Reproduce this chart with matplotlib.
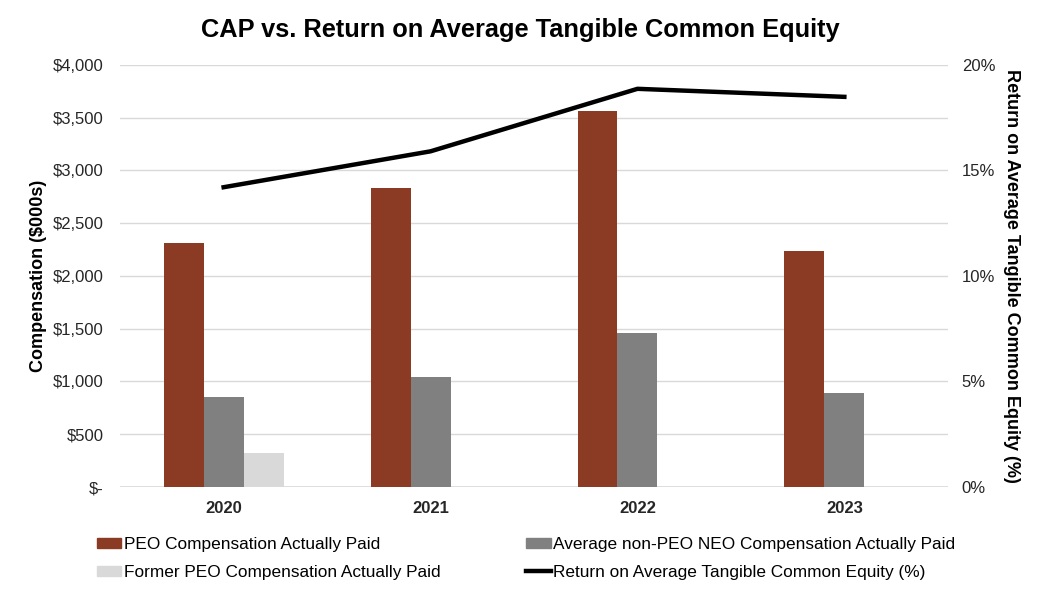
import matplotlib
matplotlib.use("Agg")
import matplotlib.pyplot as plt
import numpy as np
from matplotlib.ticker import FuncFormatter
from matplotlib.lines import Line2D
from matplotlib.patches import Patch

plt.rcParams['font.family'] = ['Liberation Sans', 'DejaVu Sans']

years = ["2020", "2021", "2022", "2023"]
peo_cap = [2313, 2834, 3564, 2237]
non_peo_cap = [853, 1043, 1460, 891]
former_peo_cap = [322, 0, 0, 0]
rotce = [14.2, 15.9, 18.86, 18.48]

c_peo = "#8B3A24"
c_non = "#808080"
c_former = "#D9D9D9"

fig = plt.figure(figsize=(10.45, 5.94), dpi=100)
ax = fig.add_axes([0.115, 0.18, 0.792, 0.711])
ax2 = ax.twinx()

x = np.arange(len(years))
w = 0.193
ax.bar(x - w, peo_cap, w, color=c_peo, zorder=3)
ax.bar(x, non_peo_cap, w, color=c_non, zorder=3)
ax.bar(x + w, former_peo_cap, w, color=c_former, zorder=3)
ax2.plot(x, rotce, color="black", lw=3.2, zorder=4)

ax.set_xlim(-0.5, 3.5)
ax.set_ylim(0, 4000)
ax.set_yticks(np.arange(0, 4001, 500))
ax.yaxis.set_major_formatter(FuncFormatter(lambda v, p: "$-" if v == 0 else f"${v:,.0f}"))
ax2.set_ylim(0, 20)
ax2.set_yticks([0, 5, 10, 15, 20])
ax2.yaxis.set_major_formatter(FuncFormatter(lambda v, p: f"{v:.0f}%"))

ax.set_xticks(x)
ax.set_xticklabels(years, fontweight="bold", fontsize=12)
ax.grid(axis="y", color="#D9D9D9", lw=1, zorder=0)
ax.set_axisbelow(True)
for a in (ax, ax2):
    for s in ["top", "right", "left", "bottom"]:
        a.spines[s].set_visible(False)
    a.tick_params(length=0, labelsize=12, colors="#262626")
ax.axhline(0, color="#D9D9D9", lw=1.2, zorder=2)
ax.tick_params(axis="y", pad=12)
ax2.tick_params(axis="y", pad=10)
ax.tick_params(axis="x", pad=10)

ax.set_ylabel("Compensation ($000s)", fontsize=13, fontweight="bold", labelpad=4)
ax2.set_ylabel("Return on Average Tangible Common Equity (%)", fontsize=13,
               fontweight="bold", rotation=270, labelpad=18)

fig.suptitle("CAP vs. Return on Average Tangible Common Equity", fontsize=18.3,
             fontweight="bold", y=0.97, x=0.498)

# column-major order so rows read: PEO | non-PEO ; Former | ROATCE
handles = [Patch(color=c_peo), Patch(color=c_former), Patch(color=c_non),
           Line2D([0], [0], color="black", lw=3.2)]
labels = ["PEO Compensation Actually Paid",
          "Former PEO Compensation Actually Paid",
          "Average non-PEO NEO Compensation Actually Paid",
          "Return on Average Tangible Common Equity (%)"]
leg = fig.legend(handles, labels, ncol=2, loc="upper left", bbox_to_anchor=(0.078, 0.122),
                 frameon=False, fontsize=12.4, handlelength=1.4, handleheight=0.55,
                 handletextpad=0.15, columnspacing=5.0, labelspacing=0.75)

fig.savefig("out.png", dpi=100)
